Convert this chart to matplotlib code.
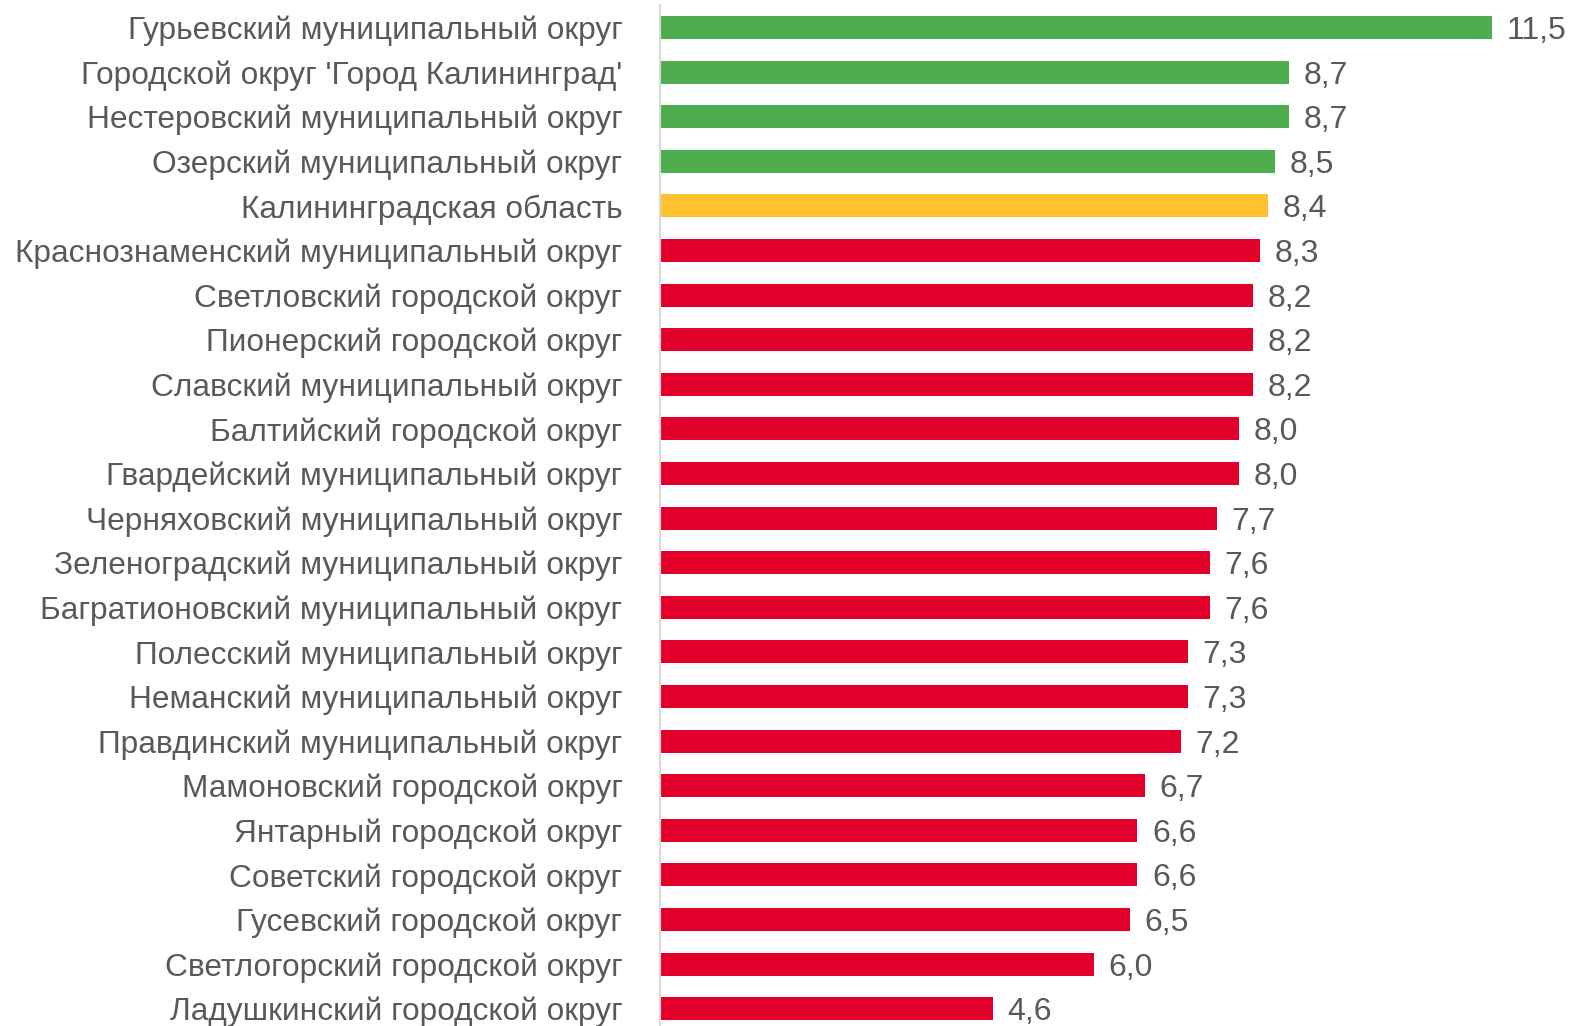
import matplotlib
matplotlib.use('Agg')
import matplotlib.pyplot as plt

plt.rcParams['font.family'] = ['Liberation Sans', 'DejaVu Sans']

districts = [
    "Гурьевский муниципальный округ",
    "Городской округ 'Город Калининград'",
    "Нестеровский муниципальный округ",
    "Озерский муниципальный округ",
    "Калининградская область",
    "Краснознаменский муниципальный округ",
    "Светловский городской округ",
    "Пионерский городской округ",
    "Славский муниципальный округ",
    "Балтийский городской округ",
    "Гвардейский муниципальный округ",
    "Черняховский муниципальный округ",
    "Зеленоградский муниципальный округ",
    "Багратионовский муниципальный округ",
    "Полесский муниципальный округ",
    "Неманский муниципальный округ",
    "Правдинский муниципальный округ",
    "Мамоновский городской округ",
    "Янтарный городской округ",
    "Советский городской округ",
    "Гусевский городской округ",
    "Светлогорский городской округ",
    "Ладушкинский городской округ",
]
values = [11.5, 8.7, 8.7, 8.5, 8.4, 8.3, 8.2, 8.2, 8.2, 8.0, 8.0, 7.7, 7.6, 7.6,
          7.3, 7.3, 7.2, 6.7, 6.6, 6.6, 6.5, 6.0, 4.6]
groups = ['above'] * 4 + ['region'] + ['below'] * 18

palette = {'above': '#4EAE4F', 'region': '#FFC12F', 'below': '#E2002A'}
text_color = '#595959'

fig = plt.figure(figsize=(15.72, 10.26), dpi=100)
W, H = 1572, 1026
left_px, right_px = 660, 1492
top_px, bottom_px = 5.2, 1031
ax = fig.add_axes([left_px / W, 1 - bottom_px / H, (right_px - left_px) / W,
                   (bottom_px - top_px) / H])

ypos = list(range(len(values)))
ax.barh(ypos, values, height=0.52, color=[palette[g] for g in groups])
ax.set_xlim(0, 11.5)
ax.set_ylim(len(values) - 0.5, -0.5)

for y, v in zip(ypos, values):
    ax.annotate(f'{v:.1f}'.replace('.', ','), (v, y), xytext=(10.5, 0),
                textcoords='offset points', va='center_baseline', ha='left',
                fontsize=23, color=text_color, annotation_clip=False)

ax.set_yticks(ypos)
ax.set_yticklabels(districts, fontsize=22.8, color=text_color)
ax.tick_params(axis='y', length=0, pad=27)
ax.set_xticks([])
for s in ['top', 'right', 'bottom']:
    ax.spines[s].set_visible(False)
ax.spines['left'].set_color('#D9D9D9')
ax.spines['left'].set_linewidth(1.5)

fig.savefig('out.png', dpi=100)
